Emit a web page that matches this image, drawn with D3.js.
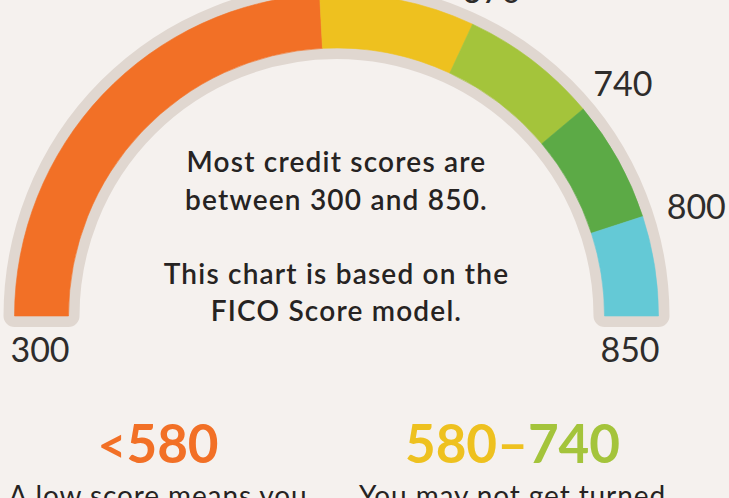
<!DOCTYPE html>
<html>
<head>
<meta charset="utf-8">
<script src="https://cdn.jsdelivr.net/npm/d3@7"></script>
<style>
  html, body { margin: 0; padding: 0; background: #f5f1ee; overflow: hidden; }
  svg { display: block; }
  text { font-family: Lato, "Open Sans", sans-serif; }
</style>
</head>
<body>
<script>
// ---- data ----
const scoreBreaks = [300, 580, 670, 740, 800, 850];
const bandColors = ["#f27026", "#eec11f", "#a4c43b", "#5caa46", "#64c9d6"];
const edgeLabels = [300, 850];
const boundaryLabels = [670, 740, 800];
const noteLines = ["Most credit scores are", "between 300 and 850.", "", "This chart is based on the", "FICO Score model."];
const rangeHeads = [
  [{t: "<", c: 0, small: true}, {t: "580", c: 0}],
  [{t: "580", c: 1}, {t: "\u2013", c: 1}, {t: "740", c: 2}]
];
const rangeTexts = ["A low score means you", "You may not get turned"];

// ---- layout ----
const W = 729, H = 498;
const cx = 336.5, cy = 316;
const rIn = 268, rOut = 322;
const deg = Math.PI / 180;

const svg = d3.select("body").append("svg").attr("width", W).attr("height", H);
svg.append("rect").attr("width", W).attr("height", H).attr("fill", "#f5f1ee");

const angle = d3.scaleLinear()
  .domain(scoreBreaks)
  .range([-90, -3, 25, 50, 72, 90].map(d => d * deg));

const g = svg.append("g").attr("transform", `translate(${cx},${cy})`);

const arc = d3.arc().innerRadius(rIn).outerRadius(rOut);

// gray frame around the band
g.append("path")
  .attr("d", arc({startAngle: angle(scoreBreaks[0]), endAngle: angle(scoreBreaks[scoreBreaks.length - 1])}))
  .attr("fill", "#e0d7d0")
  .attr("stroke", "#e0d7d0")
  .attr("stroke-width", 22)
  .attr("stroke-linejoin", "round");

const bands = d3.pairs(scoreBreaks).map((p, i) => ({from: p[0], to: p[1], color: bandColors[i]}));
g.selectAll("path.band").data(bands).join("path")
  .attr("class", "band")
  .attr("d", d => arc({startAngle: angle(d.from), endAngle: angle(d.to)}))
  .attr("fill", d => d.color)
  .attr("stroke", d => d.color)
  .attr("stroke-width", 0.6);

// labels at the ends
const labelSize = 34, labelCap = 24.5;
g.selectAll("text.edge").data(edgeLabels).join("text")
  .attr("class", "edge")
  .attr("x", d => Math.sin(angle(d)) * (rIn + rOut) / 2 - 1.5)
  .attr("y", 46)
  .attr("text-anchor", "middle")
  .attr("font-size", labelSize)
  .attr("font-weight", 400)
  .attr("fill", "#2e2c2b")
  .text(d => d);

// labels at boundaries
g.selectAll("text.bound").data(boundaryLabels).join("text")
  .attr("class", "bound")
  .each(function(d) {
    const a0 = angle(d);
    const s = Math.sin(a0);
    const a = a0 + 1.2 * deg * s;
    const r = 356 + 22 * s * s;
    d3.select(this)
      .attr("x", Math.sin(a) * r)
      .attr("y", -Math.cos(a) * r + labelCap / 2);
  })
  .attr("text-anchor", "middle")
  .attr("font-size", labelSize)
  .attr("font-weight", 400)
  .attr("fill", "#2e2c2b")
  .text(d => d);

// center note
const noteBase = [172, 209.5, 247, 283.5, 321];
svg.selectAll("text.note").data(noteLines).join("text")
  .attr("class", "note")
  .attr("x", cx)
  .attr("y", (d, i) => noteBase[i])
  .attr("text-anchor", "middle")
  .attr("font-size", 28)
  .attr("font-weight", 600)
  .attr("letter-spacing", 1.2)
  .attr("fill", "#262322")
  .text(d => d);

// bottom columns
const colX = [158, 512.5];
const heads = svg.selectAll("text.head").data(rangeHeads).join("text")
  .attr("class", "head")
  .attr("x", (d, i) => colX[i])
  .attr("y", 463)
  .attr("text-anchor", "middle")
  .attr("font-size", 53)
  .attr("font-weight", 700);
heads.selectAll("tspan").data(d => d).join("tspan")
  .attr("fill", d => bandColors[d.c])
  .attr("font-size", d => d.small ? 50 : null)
  .text(d => d.t);

svg.selectAll("text.desc").data(rangeTexts).join("text")
  .attr("class", "desc")
  .attr("x", (d, i) => colX[i])
  .attr("y", 506)
  .attr("text-anchor", "middle")
  .attr("font-size", 28)
  .attr("font-weight", 400)
  .attr("letter-spacing", 0.9)
  .attr("fill", "#262322")
  .text(d => d);
</script>
</body>
</html>
